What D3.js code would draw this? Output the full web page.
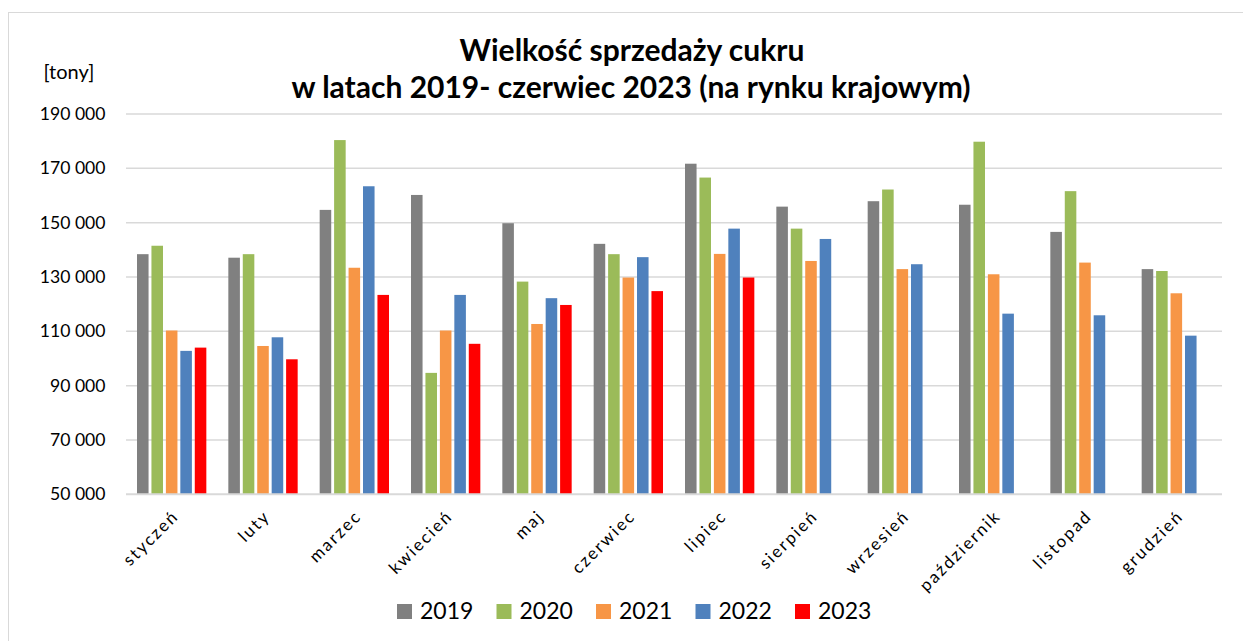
<!DOCTYPE html>
<html>
<head>
<meta charset="utf-8">
<script src="https://cdn.jsdelivr.net/npm/d3@7"></script>
<style>
  html, body { margin: 0; padding: 0; background: #fff; }
  svg { display: block; font-family: Lato, "Open Sans", sans-serif; }
</style>
</head>
<body>
<svg id="chart" width="1243" height="641"></svg>
<script>
const months = ["styczeń","luty","marzec","kwiecień","maj","czerwiec","lipiec","sierpień","wrzesień","październik","listopad","grudzień"];
const years = ["2019","2020","2021","2022","2023"];
const v2019 = [138400,137100,154700,160200,149800,142200,171700,155900,157900,156600,146600,132900];
const v2020 = [141500,138400,180400,94700,128300,138400,166600,147800,162200,179800,161600,132200];
const v2021 = [110300,104600,133400,110300,112700,129800,138500,135900,132900,131000,135300,124000];
const v2022 = [102800,107800,163400,123400,122200,137300,147800,144000,134700,116500,115900,108400];
const v2023 = [104000,99700,123400,105400,119700,124800,129800,null,null,null,null,null];
const yTicks = [50000,70000,90000,110000,130000,150000,170000,190000];
const colors = ["#808080","#9bbb59","#f79646","#4f81bd","#ff0000"];
const titleLines = ["Wielkość sprzedaży cukru","w latach 2019- czerwiec 2023 (na rynku krajowym)"];
const unitLabel = "[tony]";

const series = [v2019, v2020, v2021, v2022, v2023];
const svg = d3.select("#chart");

// chart border (extends past right/bottom edges)
svg.append("rect").attr("x", 8.5).attr("y", 12.5).attr("width", 1260).attr("height", 660)
  .attr("fill", "none").attr("stroke", "#d9d9d9").attr("stroke-width", 1);

const left = 126, right = 1222;
const y = d3.scaleLinear().domain([50000, 190000]).range([494.3, 114]);
const x0 = d3.scaleBand().domain(months).range([left, right]).padding(0);
const x1 = d3.scaleBand().domain(years).range([11, x0.bandwidth() - 11]).paddingInner(0.2);

// gridlines
svg.append("g").selectAll("line").data(yTicks.slice(1)).join("line")
  .attr("x1", left).attr("x2", right)
  .attr("y1", d => y(d)).attr("y2", d => y(d))
  .attr("stroke", "#d9d9d9").attr("stroke-width", 1.5);

// y tick labels
svg.append("g").selectAll("text").data(yTicks).join("text")
  .attr("x", 105.5).attr("y", d => y(d)).attr("dy", "0.35em")
  .attr("text-anchor", "end").attr("font-size", 17.6).attr("fill", "#000")
  .text(d => d3.format(",")(d).replace(/,/g, " "));

// bars
const rows = [];
months.forEach((m, i) => years.forEach((yr, j) => {
  const v = series[j][i];
  if (v != null) rows.push({ m, yr, v, c: colors[j] });
}));
svg.append("g").selectAll("rect").data(rows).join("rect")
  .attr("x", d => x0(d.m) + x1(d.yr))
  .attr("width", x1.bandwidth())
  .attr("y", d => y(d.v))
  .attr("height", d => y(50000) - y(d.v))
  .attr("fill", d => d.c);

// baseline axis
svg.append("line").attr("x1", left).attr("x2", right)
  .attr("y1", y(50000)).attr("y2", y(50000))
  .attr("stroke", "#d9d9d9").attr("stroke-width", 2);

// x labels
svg.append("g").selectAll("text").data(months).join("text")
  .attr("transform", d => `translate(${x0(d) + x0.bandwidth() / 2 + 8},${y(50000) + 23}) rotate(-45)`)
  .attr("text-anchor", "end")
  .attr("font-size", 17).attr("letter-spacing", "2px").attr("fill", "#000")
  .text(d => d);

// title
const title = svg.append("g");
title.append("text").attr("x", 632).attr("y", 61).attr("text-anchor", "middle")
  .attr("font-weight", "bold").attr("font-size", 30).attr("fill", "#000").text(titleLines[0]);
title.append("text").attr("x", 631).attr("y", 98).attr("text-anchor", "middle")
  .attr("font-weight", "bold").attr("font-size", 30).attr("fill", "#000").text(titleLines[1]);

// unit label
svg.append("text").attr("x", 43.5).attr("y", 79).attr("font-size", 20).attr("fill", "#000").text(unitLabel);

// legend
const lg = d3.scaleBand().domain(years).range([397, 397 + 99.5 * 5]).padding(0);
const items = svg.append("g").selectAll("g").data(years).join("g")
  .attr("transform", d => `translate(${lg(d)},604)`);
items.append("rect").attr("width", 15).attr("height", 15).attr("fill", (d, i) => colors[i]);
items.append("text").attr("x", 23).attr("y", 15.3).attr("font-size", 23).attr("fill", "#000").text(d => d);
</script>
</body>
</html>
